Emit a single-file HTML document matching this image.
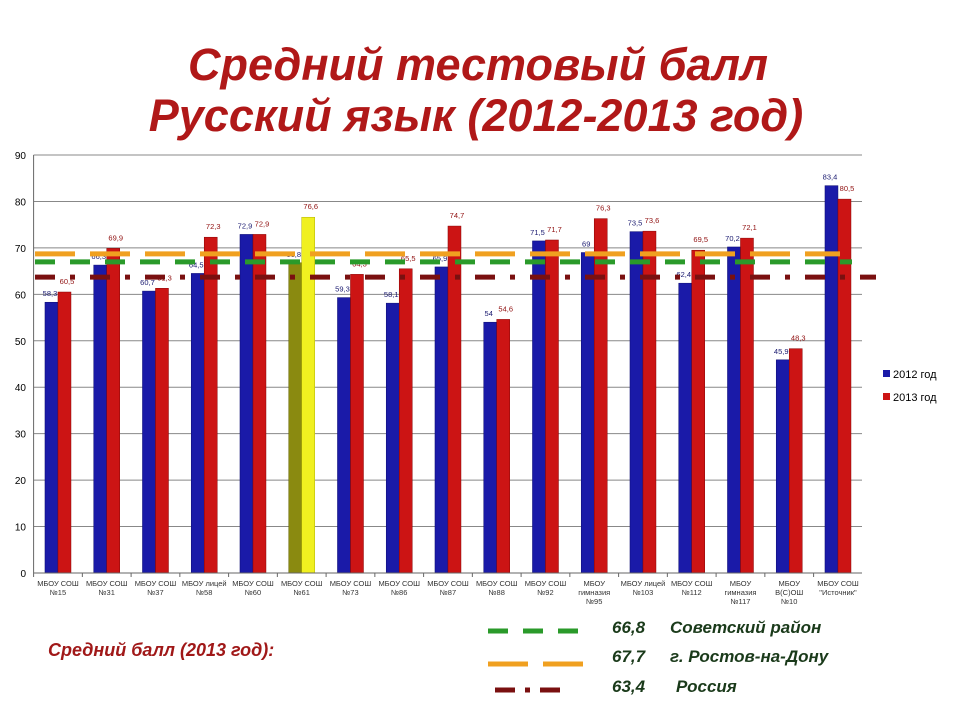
<!DOCTYPE html>
<html><head><meta charset="utf-8"><style>
body{margin:0;background:#fff;width:960px;height:720px;overflow:hidden;font-family:"Liberation Sans",sans-serif}
</style></head><body>
<svg id="c" width="960" height="720" xmlns="http://www.w3.org/2000/svg">
<text x="478" y="80" text-anchor="middle" font-size="45" font-weight="bold" font-style="italic" fill="#b01818">Средний тестовый балл</text>
<text x="476" y="131" text-anchor="middle" font-size="45" font-weight="bold" font-style="italic" fill="#b01818">Русский язык (2012-2013 год)</text>
<g id="plot"></g>
<g>
<rect x="883" y="370" width="7" height="7" fill="#1a1aa8"/>
<text x="893" y="378" font-size="11">2012 год</text>
<rect x="883" y="393" width="7" height="7" fill="#cc1414"/>
<text x="893" y="401" font-size="11">2013 год</text>
</g>
<text x="48" y="656" font-size="18" font-weight="bold" font-style="italic" fill="#a01818">Средний балл (2013 год):</text>
<g font-size="17" font-weight="bold" font-style="italic" fill="#1a3a1a">
<line x1="488" y1="631" x2="580" y2="631" stroke="#2a9a2a" stroke-width="5" stroke-dasharray="20,15"/>
<text x="612" y="633">66,8</text>
<text x="670" y="633">Советский район</text>
<line x1="488" y1="664" x2="584" y2="664" stroke="#f0a020" stroke-width="5" stroke-dasharray="40,15"/>
<text x="612" y="662">67,7</text>
<text x="670" y="662">г. Ростов-на-Дону</text>
<line x1="495" y1="690" x2="570" y2="690" stroke="#7a1010" stroke-width="5" stroke-dasharray="20,10,5,10"/>
<text x="612" y="692">63,4</text>
<text x="676" y="692">Россия</text>
</g>
</svg>
<script>
const categories=[["МБОУ СОШ","№15"],["МБОУ СОШ","№31"],["МБОУ СОШ","№37"],["МБОУ лицей","№58"],["МБОУ СОШ","№60"],["МБОУ СОШ","№61"],["МБОУ СОШ","№73"],["МБОУ СОШ","№86"],["МБОУ СОШ","№87"],["МБОУ СОШ","№88"],["МБОУ СОШ","№92"],["МБОУ","гимназия","№95"],["МБОУ лицей","№103"],["МБОУ СОШ","№112"],["МБОУ","гимназия","№117"],["МБОУ","В(С)ОШ","№10"],["МБОУ СОШ","\"Источник\""]];
const values2012=[58.3,66.3,60.7,64.5,72.9,66.8,59.3,58.1,65.9,54,71.5,69,73.5,62.4,70.2,45.9,83.4];
const values2013=[60.5,69.9,61.3,72.3,72.9,76.6,64.3,65.5,74.7,54.6,71.7,76.3,73.6,69.5,72.1,48.3,80.5];
const labels2012=["58,3","66,3","60,7","64,5","72,9","66,8","59,3","58,1","65,9","54","71,5","69","73,5","62,4","70,2","45,9","83,4"];
const labels2013=["60,5","69,9","61,3","72,3","72,9","76,6","64,3","65,5","74,7","54,6","71,7","76,3","73,6","69,5","72,1","48,3","80,5"];
const yTicks=[0,10,20,30,40,50,60,70,80,90];
const refLines=[68.7,67.0,63.7];
const NS="http://www.w3.org/2000/svg";
const g=document.getElementById('plot');
const X0=33.6,GW=48.75,Y0=573,YS=418/90,XR=862;
const y=v=>Y0-v*YS;
const gx=i=>X0+GW*i+GW/2;
function mk(t,a,p){const e=document.createElementNS(NS,t);for(const k in a)e.setAttribute(k,a[k]);(p||g).appendChild(e);return e;}
yTicks.forEach(t=>{
  const l=mk('line',{x1:X0,x2:XR,y1:y(t),y2:y(t),stroke:'#888','stroke-width':1});
  
  
  const tx=mk('text',{x:26,y:y(t)+4,'text-anchor':'end','font-size':10});tx.textContent=t;
  
  
});
const ax=mk('line',{x1:X0,x2:X0,y1:y(90),y2:Y0,stroke:'#666'});


categories.forEach((c,i)=>{
  const cx=gx(i);
  const isY=i===5;
  const b1=mk('rect',{x:cx-13,y:y(values2012[i]),width:13,height:values2012[i]*YS,fill:isY?'#8a8a10':'#1a1aa8',stroke:isY?'#666600':'#0a0a70','stroke-width':0.5});
  
  
  const b2=mk('rect',{x:cx,y:y(values2013[i]),width:13,height:values2013[i]*YS,fill:isY?'#f0f020':'#cc1414',stroke:isY?'#b0b000':'#800','stroke-width':0.5});
  
  
  const t1=mk('text',{x:cx-8,y:y(values2012[i])-6,'text-anchor':'middle','font-size':7.5,fill:'#1a1a70'});t1.textContent=labels2012[i];
  
  
  const t2=mk('text',{x:cx+9,y:y(values2013[i])-8,'text-anchor':'middle','font-size':7.5,fill:'#901010'});t2.textContent=labels2013[i];
  
  
  c.forEach((s,k)=>{const t=mk('text',{x:cx,y:586+k*9,'text-anchor':'middle','font-size':7.5,fill:'#333'});t.textContent=s;
    
    });
  const tk=mk('line',{x1:X0+GW*i,x2:X0+GW*i,y1:Y0,y2:Y0+4,stroke:'#666'});
  
  
});
const xa=mk('line',{x1:X0,x2:XR,y1:Y0,y2:Y0,stroke:'#666'});


const r1=mk('line',{x1:35,x2:840,y1:y(refLines[0]),y2:y(refLines[0]),stroke:'#f0a020','stroke-width':5,'stroke-dasharray':'40,15'});


const r2=mk('line',{x1:35,x2:852,y1:y(refLines[1]),y2:y(refLines[1]),stroke:'#2a9a2a','stroke-width':5,'stroke-dasharray':'20,15'});


const r3=mk('line',{x1:35,x2:876,y1:y(refLines[2]),y2:y(refLines[2]),stroke:'#7a1010','stroke-width':5,'stroke-dasharray':'20,15,5,15'});


</script>
</body></html>
